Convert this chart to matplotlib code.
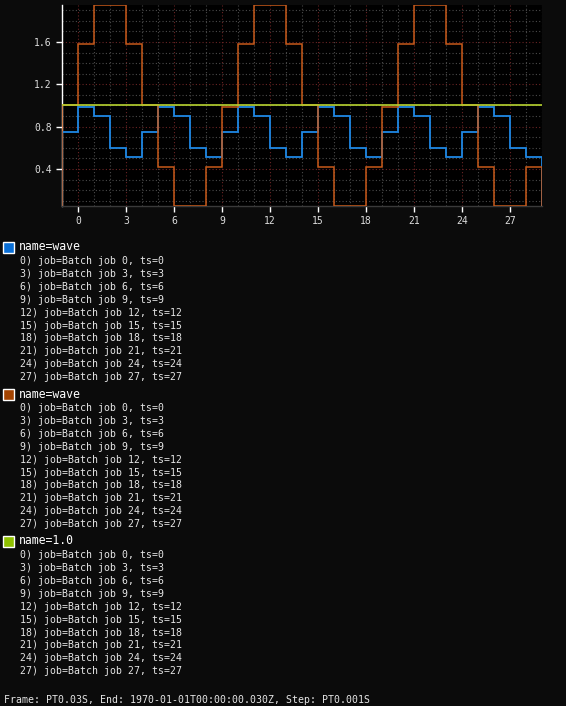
import numpy as np
import matplotlib
matplotlib.use("Agg")
import matplotlib.pyplot as plt
from matplotlib.ticker import MultipleLocator
from matplotlib.patches import Rectangle

# ---------------- data ----------------
edges = list(range(-1, 30))  # step boundaries
wave_blue = [0.75, 0.99, 0.90, 0.60, 0.51, 0.75, 0.99, 0.90, 0.60, 0.51,
             0.75, 0.99, 0.90, 0.60, 0.51, 0.75, 0.99, 0.90, 0.60, 0.51,
             0.75, 0.99, 0.90, 0.60, 0.51, 0.75, 0.99, 0.90, 0.60, 0.51]
wave_orange = [1.00, 1.58, 1.95, 1.95, 1.58, 1.00, 0.42, 0.05, 0.05, 0.42,
               0.99, 1.58, 1.95, 1.95, 1.58, 1.00, 0.42, 0.05, 0.05, 0.42,
               0.99, 1.58, 1.95, 1.95, 1.58, 1.00, 0.42, 0.05, 0.05, 0.42]
const_level = 1.0

legend_headers = ["name=wave", "name=wave", "name=1.0"]
legend_colors = ["#0a6fd6", "#a34300", "#8fc000"]
job_ts = [0, 3, 6, 9, 12, 15, 18, 21, 24, 27]
footer = "Frame: PT0.03S, End: 1970-01-01T00:00:00.030Z, Step: PT0.001S"

# ---------------- figure ----------------
W, H = 566, 706
fig = plt.figure(figsize=(W / 100, H / 100), dpi=100, facecolor="#0b0b0b")
mono = ["DejaVu Sans Mono"]

ax_l, ax_r, ax_t, ax_b = 62, 542, 5, 206
ax = fig.add_axes([ax_l / W, 1 - ax_b / H, (ax_r - ax_l) / W, (ax_b - ax_t) / H])
ax.set_facecolor("#000000")

ax.stairs(wave_blue, edges, color="#1e88e5", linewidth=1.3, zorder=3)
ax.stairs(wave_orange, edges, color="#c85a1a", linewidth=1.1, zorder=3)
ax.axhline(const_level, color="#b8d430", linewidth=1.2, zorder=4)

ax.set_xlim(-1, 29)
ax.set_ylim(0.05, 1.95)

ax.xaxis.set_major_locator(MultipleLocator(3))
ax.xaxis.set_minor_locator(MultipleLocator(1))
ax.yaxis.set_major_locator(MultipleLocator(0.4))
ax.yaxis.set_minor_locator(MultipleLocator(0.1))
ax.yaxis.set_major_formatter(matplotlib.ticker.FormatStrFormatter("%.1f"))

ax.grid(which="major", color="#6a2424", linestyle=(0, (1, 2)), linewidth=0.8, zorder=1)
ax.grid(which="minor", color="#4a4a4a", linestyle=(0, (1, 2)), linewidth=0.8, zorder=1)
ax.set_axisbelow(True)

for s in ["top", "right"]:
    ax.spines[s].set_visible(False)
ax.spines["left"].set_color("#ffffff")
ax.spines["left"].set_linewidth(1.0)
ax.spines["bottom"].set_color("#3a3a3a")
ax.spines["bottom"].set_linewidth(1.0)

ax.tick_params(which="major", colors="#ffffff", labelcolor="#dddddd",
               labelsize=7, length=4, width=1)
ax.tick_params(which="minor", length=0)
for lab in ax.get_xticklabels() + ax.get_yticklabels():
    lab.set_family(mono)

# ---------------- legend ----------------
def fy(ypx):
    return 1 - ypx / H

block_start = [247, 394, 541]
for hdr, col, y0 in zip(legend_headers, legend_colors, block_start):
    fig.patches.append(Rectangle((3 / W, fy(y0 + 5.5)), 10.5 / W, 10.5 / H,
                                 transform=fig.transFigure, facecolor=col,
                                 edgecolor="#ffffff", linewidth=1.0))
    fig.text(19 / W, fy(y0), hdr, color="#ffffff", fontsize=8.3,
             family=mono, va="center", ha="left")
    for i, t in enumerate(job_ts):
        fig.text(20 / W, fy(y0 + 13.8 + 12.95 * i),
                 f"{t}) job=Batch job {t}, ts={t}", color="#e6e6e6",
                 fontsize=7.1, family=mono, va="center", ha="left")

fig.text(4 / W, fy(700), footer, color="#e6e6e6", fontsize=7.1,
         family=mono, va="center", ha="left")

fig.savefig("out.png", dpi=100, facecolor=fig.get_facecolor())
